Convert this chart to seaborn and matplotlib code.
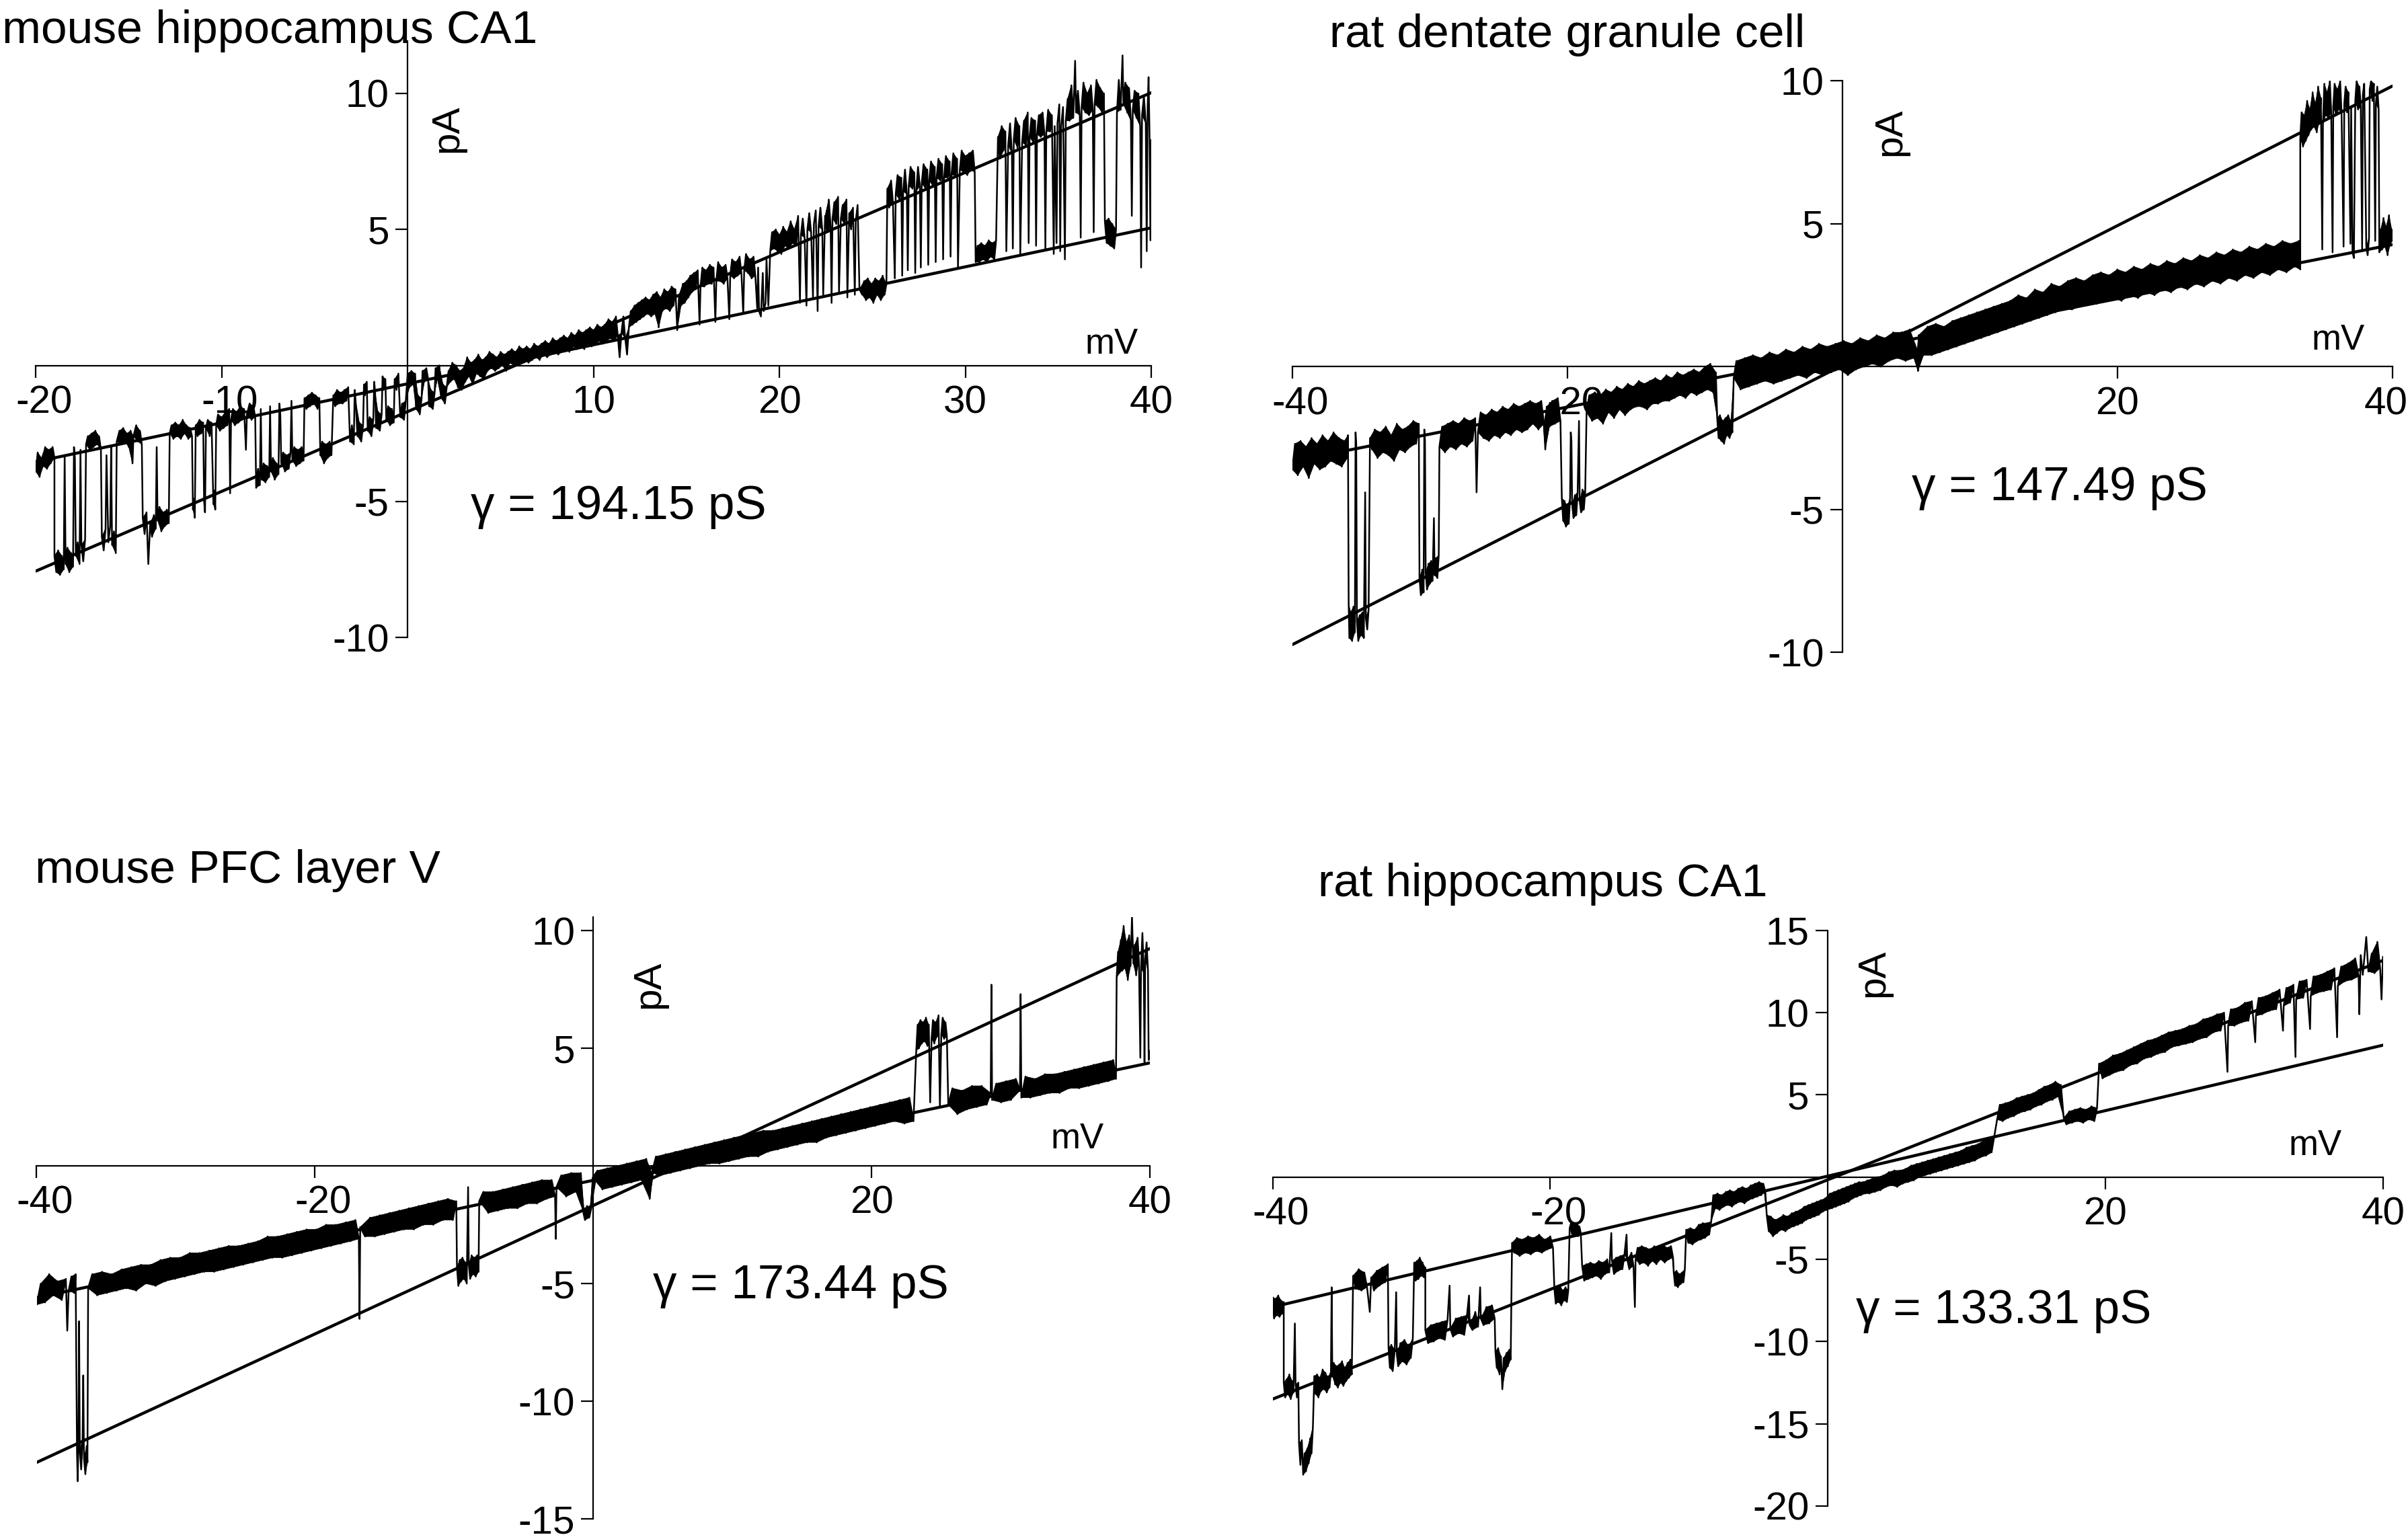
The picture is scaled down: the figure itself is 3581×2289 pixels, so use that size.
import matplotlib
matplotlib.use("Agg")
import matplotlib.pyplot as plt
from matplotlib.collections import PolyCollection
from matplotlib.transforms import ScaledTranslation
import pandas as pd
import seaborn as sns

# ---- values: (mV, pA) ----
mouse_ca1_trace = [
    (-20.0, -3.9), (-19.9, -3.2), (-19.8, -4.1), (-19.7, -3.4), (-19.6, -3.7), (-19.5, -3.0), (-19.4, -3.8),
    (-19.3, -3.1), (-19.2, -3.6), (-19.1, -3.0), (-19.0, -3.4), (-19.0, -7.0),
    (-18.9, -7.6), (-18.8, -6.8), (-18.7, -7.7), (-18.6, -7.0), (-18.5, -7.5), (-18.45, -3.3), (-18.4, -7.3),
    (-18.3, -6.7), (-18.2, -7.6), (-18.1, -6.9), (-18.0, -7.4), (-17.95, -3.0), (-17.9, -3.4), (-17.85, -7.0),
    (-17.75, -6.5), (-17.65, -7.3), (-17.6, -3.1), (-17.55, -6.6), (-17.45, -7.2), (-17.35, -6.4), (-17.3, -2.9),
    (-17.2, -2.6), (-17.1, -3.1), (-17.0, -2.5), (-16.9, -3.0), (-16.8, -2.4), (-16.7, -2.9), (-16.6, -2.6), (-16.5, -3.1),
    (-16.45, -6.3), (-16.35, -6.8), (-16.25, -6.0), (-16.2, -3.3), (-16.1, -6.5), (-16.0, -5.9), (-15.95, -3.0),
    (-15.9, -6.6), (-15.8, -6.1), (-15.7, -6.9), (-15.65, -2.8),
    (-15.5, -2.4), (-15.4, -2.9), (-15.3, -2.3), (-15.2, -2.8), (-15.1, -2.5), (-15.0, -3.0), (-14.9, -2.4),
    (-14.8, -3.6), (-14.75, -2.6), (-14.6, -2.2), (-14.5, -2.8), (-14.4, -2.4), (-14.3, -2.9),
    (-14.25, -5.6), (-14.15, -6.2), (-14.05, -5.4), (-13.95, -7.3), (-13.85, -5.8), (-13.75, -6.3), (-13.65, -5.5),
    (-13.55, -6.0), (-13.5, -3.0), (-13.45, -5.7), (-13.35, -5.2), (-13.25, -6.1), (-13.15, -5.4), (-13.05, -5.9),
    (-12.95, -5.3), (-12.85, -5.8), (-12.8, -2.5),
    (-12.7, -2.2), (-12.6, -2.7), (-12.5, -2.1), (-12.4, -2.6), (-12.3, -2.2), (-12.2, -2.7), (-12.1, -2.0),
    (-12.0, -2.5), (-11.9, -2.2), (-11.8, -2.7), (-11.7, -2.3),
    (-11.6, -2.6), (-11.55, -5.3), (-11.5, -4.9), (-11.45, -5.6), (-11.4, -2.2), (-11.3, -2.6), (-11.2, -2.0),
    (-11.1, -2.5), (-11.0, -2.1), (-10.95, -5.0), (-10.9, -5.4), (-10.85, -2.3), (-10.75, -2.0), (-10.65, -2.6),
    (-10.55, -2.1), (-10.45, -5.1), (-10.4, -4.6), (-10.35, -5.3), (-10.3, -2.2), (-10.2, -1.8), (-10.1, -2.4),
    (-10.0, -1.9), (-9.9, -2.3), (-9.8, -1.7), (-9.7, -2.2), (-9.6, -1.6), (-9.55, -4.7), (-9.5, -2.0), (-9.4, -1.6),
    (-9.3, -2.2), (-9.2, -1.7), (-9.1, -2.1), (-9.0, -1.5), (-8.9, -2.0), (-8.8, -1.6), (-8.7, -3.1), (-8.65, -1.8),
    (-8.5, -1.4), (-8.4, -2.0), (-8.3, -1.5),
    (-8.2, -1.9), (-8.15, -4.5), (-8.05, -3.8), (-7.95, -4.4), (-7.9, -1.6), (-7.85, -4.2), (-7.75, -3.6),
    (-7.65, -4.3), (-7.55, -3.7), (-7.45, -4.1), (-7.4, -1.5), (-7.35, -3.9), (-7.25, -3.4), (-7.15, -4.2),
    (-7.05, -3.6), (-6.95, -4.0), (-6.9, -1.4), (-6.85, -1.8), (-6.8, -3.6), (-6.7, -3.2), (-6.6, -3.9),
    (-6.5, -3.3), (-6.4, -3.8), (-6.3, -3.2), (-6.25, -1.3), (-6.2, -3.5), (-6.1, -3.0), (-6.0, -3.7),
    (-5.9, -3.1), (-5.8, -3.6), (-5.7, -3.0), (-5.6, -3.5),
    (-5.55, -1.2), (-5.45, -1.6), (-5.35, -1.1), (-5.25, -1.5), (-5.15, -1.0), (-5.05, -1.4), (-4.95, -1.1),
    (-4.85, -1.6), (-4.75, -1.2),
    (-4.7, -3.3), (-4.6, -2.8), (-4.5, -3.6), (-4.4, -2.9), (-4.3, -3.4), (-4.2, -2.8), (-4.1, -3.3),
    (-4.0, -1.1), (-3.9, -1.5), (-3.8, -0.9), (-3.7, -1.4), (-3.6, -1.0), (-3.5, -1.4), (-3.4, -0.9), (-3.3, -1.3),
    (-3.2, -0.8),
    (-3.1, -2.8), (-3.0, -2.2), (-2.9, -2.9), (-2.85, -0.9), (-2.8, -1.3), (-2.7, -2.6), (-2.6, -2.1), (-2.5, -2.8),
    (-2.4, -2.2), (-2.35, -0.7), (-2.3, -1.1), (-2.2, -0.6), (-2.15, -2.4), (-2.05, -1.9), (-1.95, -2.6),
    (-1.85, -2.0), (-1.8, -0.6), (-1.75, -1.0), (-1.7, -2.3), (-1.6, -1.7), (-1.5, -2.4), (-1.4, -1.8),
    (-1.35, -0.4), (-1.3, -0.9), (-1.2, -0.5), (-1.15, -2.0), (-1.05, -1.5), (-0.95, -2.2), (-0.85, -1.6),
    (-0.75, -2.1), (-0.7, -0.5), (-0.6, -0.9), (-0.5, -0.3), (-0.4, -1.9), (-0.3, -1.4), (-0.2, -2.0),
    (-0.1, -1.3), (0.0, -0.3),
    (0.1, -0.8), (0.2, -0.2), (0.3, -0.7), (0.4, -0.3), (0.45, -1.6), (0.55, -1.1), (0.65, -1.8), (0.75, -1.2),
    (0.8, -0.2), (0.9, -0.6), (1.0, -0.1), (1.1, -0.5), (1.15, -1.5), (1.25, -0.9), (1.35, -1.6), (1.45, -1.0),
    (1.5, -0.1), (1.6, -0.5), (1.7, 0.0), (1.8, -1.2), (1.9, -0.7), (2.0, -1.4), (2.1, -0.8), (2.2, -0.2),
    (2.3, -0.6), (2.4, 0.1), (2.5, -0.5), (2.6, 0.0), (2.7, -0.8), (2.8, -0.2), (2.9, -0.9), (3.0, -0.1),
    (3.1, -0.6), (3.2, 0.3), (3.3, -0.4), (3.4, 0.1), (3.5, -0.7), (3.6, 0.2), (3.7, -0.3), (3.8, 0.4),
    (3.9, -0.4), (4.0, 0.2), (4.1, -0.5), (4.2, 0.3), (4.3, -0.2), (4.4, 0.5),
    (4.5, -0.1), (4.6, 0.4), (4.7, -0.2), (4.8, 0.3), (4.9, -0.1), (5.0, 0.5), (5.1, 0.0), (5.2, 0.4),
    (5.3, -0.2), (5.4, 0.5), (5.5, 0.1), (5.6, 0.6), (5.7, 0.0), (5.8, 0.5), (5.9, 0.1), (6.0, 0.7),
    (6.1, 0.1), (6.2, 0.6), (6.3, 0.2), (6.4, 0.7), (6.5, 0.1), (6.6, 0.6), (6.7, 0.2), (6.8, 0.8),
    (6.9, 0.3), (7.0, 0.7), (7.1, 0.2), (7.2, 0.8), (7.3, 0.4), (7.4, 0.9), (7.5, 0.3), (7.6, 0.8),
    (7.7, 0.4), (7.8, 1.0), (7.9, 0.5), (8.0, 0.9), (8.1, 0.4), (8.2, 1.0), (8.3, 0.5), (8.4, 1.1),
    (8.5, 0.6), (8.6, 1.0), (8.7, 0.5), (8.8, 1.2), (8.9, 0.7), (9.0, 1.1), (9.1, 0.6), (9.2, 1.3),
    (9.3, 0.7), (9.4, 1.2), (9.5, 0.6), (9.6, 1.3), (9.7, 0.8), (9.8, 1.4), (9.9, 0.7), (10.0, 1.3),
    (10.1, 0.8), (10.2, 1.5), (10.3, 0.9), (10.4, 1.4), (10.5, 0.8), (10.6, 1.5),
    (10.7, 0.9), (10.8, 1.7), (10.9, 1.0), (11.0, 1.6), (11.1, 0.9), (11.2, 1.8), (11.3, 1.1), (11.4, 0.3),
    (11.5, 1.2), (11.6, 1.8), (11.7, 1.0), (11.8, 0.4), (11.9, 1.4), (12.0, 2.0),
    (12.1, 1.5), (12.2, 2.2), (12.3, 1.6), (12.4, 2.3), (12.5, 1.7), (12.6, 2.4), (12.7, 1.8), (12.8, 2.5),
    (12.9, 1.9), (13.0, 2.4), (13.1, 1.8), (13.2, 2.6), (13.3, 1.9), (13.4, 2.7), (13.5, 1.4), (13.6, 2.5),
    (13.7, 2.0), (13.8, 2.8), (13.9, 2.1), (14.0, 2.7), (14.1, 2.0), (14.2, 2.9), (14.3, 2.2), (14.4, 2.8),
    (14.5, 1.3), (14.6, 2.6), (14.7, 2.2), (14.8, 3.0), (14.9, 2.3),
    (15.0, 3.1), (15.1, 2.5), (15.2, 3.3), (15.3, 2.7), (15.4, 3.4), (15.5, 2.8), (15.6, 3.5), (15.7, 1.5),
    (15.75, 2.9), (15.85, 3.6), (15.95, 2.9), (16.05, 3.5), (16.15, 3.0), (16.25, 3.7), (16.35, 3.0),
    (16.45, 3.6), (16.55, 1.6), (16.6, 3.1), (16.7, 3.8), (16.8, 3.1), (16.9, 3.6), (17.0, 3.0), (17.1, 3.7),
    (17.2, 3.2), (17.3, 1.7), (17.35, 3.3), (17.45, 3.9), (17.55, 3.2), (17.65, 3.8), (17.75, 3.3),
    (17.85, 4.0), (17.95, 3.4), (18.05, 1.9), (18.1, 3.5), (18.2, 4.1), (18.3, 3.4), (18.4, 3.9), (18.5, 3.2),
    (18.6, 4.0), (18.7, 3.3), (18.8, 2.1), (18.85, 3.6), (18.9, 2.0), (19.0, 1.8), (19.1, 3.4), (19.15, 2.0),
    (19.25, 2.3), (19.3, 3.9), (19.4, 2.2), (19.5, 4.2),
    (19.6, 4.9), (19.7, 4.3), (19.8, 5.0), (19.9, 4.2), (20.0, 4.8), (20.1, 4.1), (20.2, 5.1), (20.3, 4.4),
    (20.4, 4.9), (20.5, 4.3), (20.6, 5.3), (20.7, 4.5), (20.8, 5.0), (20.9, 4.4),
    (21.0, 5.5), (21.1, 2.3), (21.15, 4.8), (21.25, 5.4), (21.35, 4.7), (21.45, 2.2), (21.5, 5.0), (21.6, 5.6),
    (21.7, 4.9), (21.8, 2.5), (21.85, 5.2), (21.95, 5.7), (22.05, 2.0), (22.1, 5.1), (22.2, 5.8), (22.3, 5.0),
    (22.35, 2.6), (22.45, 5.5), (22.55, 4.9), (22.65, 6.1), (22.75, 5.1), (22.8, 2.3), (22.85, 5.4),
    (22.95, 6.0), (23.05, 5.2), (23.15, 6.2), (23.2, 2.7), (23.3, 5.4), (23.4, 5.9), (23.5, 5.2), (23.6, 6.1),
    (23.65, 2.5), (23.75, 5.6), (23.85, 5.0), (23.95, 5.8), (24.05, 2.6), (24.1, 5.3), (24.2, 5.9), (24.3, 2.8),
    (24.45, 2.6), (24.55, 3.1), (24.65, 2.4), (24.75, 3.2), (24.85, 2.5), (24.95, 3.0), (25.05, 2.3),
    (25.15, 3.2), (25.25, 2.6), (25.35, 3.1), (25.45, 2.4), (25.55, 3.3), (25.65, 2.6), (25.75, 3.0),
    (25.8, 6.5), (25.9, 5.8), (26.0, 6.8), (26.1, 6.0), (26.2, 3.2), (26.25, 6.3), (26.35, 7.0), (26.45, 6.1),
    (26.55, 6.9), (26.6, 3.3), (26.65, 6.4), (26.75, 7.2), (26.85, 6.3), (26.9, 3.5), (26.95, 6.6), (27.05, 7.3),
    (27.15, 6.5), (27.25, 7.1), (27.3, 3.4), (27.35, 6.4), (27.45, 7.3), (27.55, 6.6), (27.6, 3.6), (27.65, 6.7),
    (27.75, 7.4), (27.85, 6.5), (27.95, 7.2), (28.0, 3.7), (28.05, 6.8), (28.15, 7.5), (28.25, 6.6), (28.35, 7.3),
    (28.4, 3.8), (28.45, 6.9), (28.55, 7.6), (28.65, 6.8), (28.75, 7.4), (28.8, 3.9), (28.85, 6.9), (28.95, 7.7),
    (29.05, 6.9), (29.15, 7.5), (29.2, 4.0), (29.25, 7.0), (29.35, 7.8), (29.45, 7.0), (29.55, 7.6), (29.6, 3.6),
    (29.7, 7.2), (29.8, 7.9), (29.9, 7.1), (30.0, 7.7), (30.1, 7.0), (30.2, 7.8), (30.3, 7.2), (30.4, 7.9),
    (30.5, 7.1), (30.55, 3.8),
    (30.65, 4.4), (30.75, 3.8), (30.85, 4.5), (30.95, 3.9), (31.05, 4.4), (31.15, 3.8), (31.25, 4.6),
    (31.35, 4.0), (31.45, 4.5), (31.55, 3.9), (31.65, 4.6),
    (31.75, 8.4), (31.85, 7.6), (31.95, 8.8), (32.05, 7.9), (32.15, 8.6), (32.2, 4.2), (32.3, 8.1), (32.4, 8.9),
    (32.5, 7.8), (32.55, 4.3), (32.6, 8.3), (32.7, 9.1), (32.8, 8.0), (32.9, 8.8), (32.95, 4.1), (33.05, 8.2),
    (33.15, 9.0), (33.25, 8.1), (33.35, 9.3), (33.4, 4.5), (33.45, 8.4), (33.55, 9.1), (33.65, 8.2), (33.75, 9.0),
    (33.8, 4.4), (33.85, 8.5), (33.95, 9.2), (34.05, 8.4), (34.15, 9.3), (34.25, 8.5), (34.3, 4.3), (34.35, 8.6),
    (34.45, 9.4), (34.55, 8.6), (34.65, 9.2),
    (34.75, 4.1), (34.8, 8.8), (34.9, 4.5), (34.95, 8.9), (35.05, 9.6), (35.1, 4.2), (35.15, 8.8), (35.25, 9.5),
    (35.35, 3.9), (35.4, 9.0),
    (35.5, 9.8), (35.6, 9.0), (35.7, 10.3), (35.8, 9.1), (35.9, 11.2), (35.95, 9.3), (36.05, 10.1), (36.15, 9.2),
    (36.2, 4.7), (36.25, 9.5), (36.35, 10.4), (36.45, 9.3), (36.55, 10.0), (36.65, 9.2), (36.75, 10.3),
    (36.85, 9.4), (36.9, 4.9), (36.95, 9.6), (37.05, 10.5), (37.15, 9.5), (37.25, 10.2), (37.35, 9.3), (37.45, 10.0),
    (37.5, 5.3), (37.6, 4.5), (37.7, 5.4), (37.8, 4.4), (37.9, 5.2), (38.0, 4.3), (38.1, 5.0),
    (38.15, 9.3), (38.25, 10.5), (38.35, 9.4), (38.45, 11.4), (38.5, 9.6), (38.6, 10.4), (38.7, 9.3), (38.8, 10.2),
    (38.9, 9.0), (38.95, 5.5), (39.0, 9.4), (39.1, 10.1), (39.2, 9.1), (39.3, 10.0), (39.4, 8.8), (39.45, 3.6),
    (39.5, 9.2), (39.6, 9.9), (39.7, 8.9), (39.75, 4.2), (39.8, 9.5), (39.85, 10.6), (39.9, 8.6), (39.95, 4.6),
    (40.0, 8.3),
]
mouse_ca1_closed_fit = [(-20, -3.54), (40, 5.06)]
mouse_ca1_open_fit = [(-20, -7.56), (40, 10.03)]

rat_dg_trace = [
    (-40.0, -3.6), (-39.8, -2.7), (-39.6, -3.8), (-39.4, -2.6), (-39.2, -3.5), (-39.0, -2.8), (-38.8, -3.9),
    (-38.6, -2.5), (-38.4, -3.4), (-38.2, -2.7), (-38.0, -3.6), (-37.8, -2.4), (-37.6, -3.5), (-37.4, -2.6),
    (-37.2, -3.3), (-37.0, -2.3), (-36.8, -3.4), (-36.6, -2.5), (-36.4, -3.5), (-36.2, -2.6), (-36.0, -3.2),
    (-35.95, -2.4), (-35.9, -8.3), (-35.85, -9.5), (-35.75, -8.6), (-35.65, -9.6), (-35.55, -8.4), (-35.45, -9.3),
    (-35.4, -2.3), (-35.35, -2.7), (-35.3, -8.9), (-35.2, -9.6), (-35.1, -8.7), (-35.0, -9.4), (-34.9, -8.6),
    (-34.8, -9.5), (-34.7, -4.4), (-34.65, -8.8), (-34.55, -9.2), (-34.45, -8.5), (-34.35, -2.5),
    (-34.2, -2.9), (-34.0, -2.2), (-33.8, -3.2), (-33.6, -2.3), (-33.4, -3.0), (-33.2, -2.1), (-33.0, -3.1),
    (-32.8, -2.4), (-32.6, -3.3), (-32.4, -2.0), (-32.2, -2.9), (-32.0, -2.2), (-31.8, -3.0), (-31.6, -2.1),
    (-31.4, -2.8), (-31.2, -1.9), (-31.0, -2.7), (-30.8, -2.0),
    (-30.75, -7.4), (-30.65, -8.0), (-30.55, -7.1), (-30.45, -7.9), (-30.4, -2.2), (-30.35, -2.6), (-30.3, -7.2),
    (-30.2, -7.8), (-30.1, -6.9), (-30.0, -7.6), (-29.9, -6.8), (-29.8, -7.5), (-29.7, -5.3), (-29.65, -7.3),
    (-29.55, -6.7), (-29.45, -7.4), (-29.35, -6.6), (-29.3, -2.8),
    (-29.1, -2.1), (-28.9, -3.0), (-28.7, -2.0), (-28.5, -2.8), (-28.3, -1.9), (-28.1, -2.9), (-27.9, -2.0),
    (-27.7, -2.7), (-27.5, -1.8), (-27.3, -2.8), (-27.1, -1.9), (-26.9, -2.6), (-26.7, -1.8), (-26.6, -4.4),
    (-26.5, -2.3), (-26.3, -1.6), (-26.1, -2.5), (-25.9, -1.7), (-25.7, -2.6), (-25.5, -1.5), (-25.3, -2.4),
    (-25.1, -1.6), (-24.9, -2.5), (-24.7, -1.4), (-24.5, -2.3), (-24.3, -1.5), (-24.1, -2.4), (-23.9, -1.3),
    (-23.7, -2.2), (-23.5, -1.4), (-23.3, -2.3), (-23.1, -1.3), (-22.9, -2.2), (-22.7, -1.2), (-22.5, -2.0),
    (-22.3, -1.3), (-22.1, -2.2), (-21.9, -1.2), (-21.7, -2.0), (-21.6, -2.9), (-21.5, -1.4), (-21.3, -2.1),
    (-21.1, -1.2), (-20.9, -2.0), (-20.7, -1.1), (-20.5, -1.9),
    (-20.4, -4.6), (-20.3, -5.4), (-20.2, -4.7), (-20.1, -5.6), (-20.0, -4.9), (-19.9, -5.5), (-19.8, -4.6),
    (-19.75, -2.3), (-19.7, -2.6), (-19.65, -4.8), (-19.55, -5.3), (-19.45, -4.5), (-19.35, -5.2), (-19.25, -4.4),
    (-19.15, -1.9), (-19.1, -4.7), (-19.0, -5.1), (-18.9, -4.3), (-18.8, -5.0), (-18.7, -4.4), (-18.6, -1.6),
    (-18.4, -1.0), (-18.2, -1.9), (-18.0, -0.9), (-17.8, -1.8), (-17.6, -1.0), (-17.4, -2.0), (-17.2, -0.8),
    (-17.0, -1.6), (-16.8, -0.9), (-16.6, -1.8), (-16.4, -0.7), (-16.2, -1.5), (-16.0, -0.8), (-15.8, -1.7),
    (-15.6, -0.6), (-15.4, -1.5), (-15.2, -0.7), (-15.0, -1.4), (-14.8, -0.5), (-14.6, -1.4), (-14.4, -0.6),
    (-14.2, -1.5), (-14.0, -0.5), (-13.8, -1.3), (-13.6, -0.4), (-13.4, -1.3), (-13.2, -0.5), (-13.0, -1.2),
    (-12.8, -0.3), (-12.6, -1.2), (-12.4, -0.4), (-12.2, -1.1), (-12.0, -0.2), (-11.8, -1.0), (-11.6, -0.3),
    (-11.4, -1.1), (-11.2, -0.2), (-11.0, -0.9), (-10.8, -0.1), (-10.6, -1.0), (-10.4, -0.2), (-10.2, -0.9),
    (-10.0, 0.0), (-9.8, -0.8), (-9.6, 0.1), (-9.4, -0.9), (-9.2, -0.2),
    (-9.1, -1.8), (-9.0, -2.5), (-8.9, -1.7), (-8.8, -2.6), (-8.7, -1.9), (-8.6, -2.7), (-8.5, -1.8),
    (-8.4, -2.4), (-8.3, -1.7), (-8.2, -2.5), (-8.1, -1.9), (-8.0, -2.3), (-7.9, -0.4),
    (-7.7, 0.2), (-7.4, -0.8), (-7.1, 0.3), (-6.8, -0.7), (-6.5, 0.4), (-6.2, -0.6), (-5.9, 0.3), (-5.6, -0.5),
    (-5.3, 0.5), (-5.0, -0.6), (-4.7, 0.4), (-4.4, -0.5), (-4.1, 0.6), (-3.8, -0.4), (-3.5, 0.5), (-3.2, -0.3),
    (-2.9, 0.7), (-2.6, -0.4), (-2.3, 0.6), (-2.0, -0.2), (-1.7, 0.8), (-1.4, -0.3), (-1.1, 0.7), (-0.8, -0.2),
    (-0.5, 0.8), (-0.2, -0.1), (0.1, 0.9), (0.4, -0.3), (0.7, 0.8), (1.0, -0.1), (1.3, 1.0), (1.6, 0.0),
    (1.9, 0.9), (2.2, 0.1), (2.5, 1.1), (2.8, 0.0), (3.1, 1.0), (3.4, 0.2), (3.7, 1.2), (4.0, 0.3),
    (4.3, 1.2), (4.6, 0.2), (4.9, 1.3), (5.2, 0.3), (5.45, 0.6), (5.5, -0.15), (5.55, 1.1), (5.9, 0.4),
    (6.2, 1.4), (6.5, 0.4), (6.8, 1.5), (7.1, 0.5), (7.4, 1.4), (7.7, 0.6), (8.0, 1.6), (8.3, 0.7),
    (8.6, 1.7), (8.9, 0.8), (9.2, 1.8), (9.5, 0.9), (9.8, 1.9), (10.1, 1.0), (10.4, 2.0), (10.7, 1.1),
    (11.0, 2.1), (11.3, 1.2), (11.6, 2.2), (11.9, 1.3), (12.2, 2.3), (12.5, 1.4), (12.8, 2.5), (13.1, 1.5),
    (13.4, 2.4), (13.7, 1.6), (14.0, 2.7), (14.3, 1.7), (14.6, 2.6), (14.9, 1.8), (15.2, 2.9), (15.5, 1.9),
    (15.8, 2.8), (16.1, 2.0), (16.4, 3.0), (16.7, 2.0), (17.0, 3.1), (17.3, 2.1), (17.6, 3.0), (17.9, 2.2),
    (18.2, 3.2), (18.5, 2.2), (18.8, 3.3), (19.1, 2.3), (19.4, 3.2), (19.7, 2.4), (20.0, 3.4), (20.3, 2.3),
    (20.6, 3.3), (20.9, 2.5), (21.2, 3.5), (21.5, 2.4), (21.8, 3.4), (22.1, 2.6), (22.4, 3.6), (22.7, 2.5),
    (23.0, 3.5), (23.3, 2.7), (23.6, 3.7), (23.9, 2.6), (24.2, 3.6), (24.5, 2.8), (24.8, 3.8), (25.1, 2.7),
    (25.4, 3.7), (25.7, 2.9), (26.0, 3.9), (26.3, 2.8), (26.6, 3.8), (26.9, 3.0), (27.2, 4.0), (27.5, 2.9),
    (27.8, 3.9), (28.1, 3.1), (28.4, 4.1), (28.7, 3.0), (29.0, 4.0), (29.3, 3.2), (29.6, 4.2), (29.9, 3.1),
    (30.2, 4.1), (30.5, 3.3), (30.8, 4.3), (31.1, 3.2), (31.4, 4.2), (31.7, 3.4), (32.0, 4.4), (32.3, 3.3),
    (32.6, 4.3), (32.9, 3.5), (33.2, 4.4),
    (33.3, 3.4), (33.3, 8.0), (33.4, 8.9), (33.5, 7.7), (33.6, 8.8), (33.7, 7.9), (33.8, 9.3), (33.9, 8.1),
    (34.0, 9.0), (34.1, 8.3), (34.2, 9.6), (34.3, 8.4), (34.4, 9.2), (34.5, 8.2), (34.6, 9.8), (34.7, 8.6),
    (34.8, 9.4), (34.9, 4.1), (34.95, 8.5), (35.05, 9.9), (35.15, 8.8), (35.25, 9.6), (35.35, 8.7), (35.45, 10.0),
    (35.55, 8.9), (35.65, 4.0), (35.7, 9.1), (35.8, 9.9), (35.9, 8.8), (36.0, 9.7), (36.1, 9.0), (36.2, 10.0),
    (36.3, 8.9), (36.45, 4.2), (36.5, 9.2), (36.6, 9.8), (36.7, 8.9), (36.8, 9.6), (36.95, 4.3), (37.0, 9.1),
    (37.1, 4.0), (37.2, 3.8), (37.3, 9.3), (37.4, 10.0), (37.5, 9.0), (37.6, 9.8), (37.7, 9.1), (37.8, 4.1),
    (37.85, 9.5), (37.95, 9.9), (38.1, 4.2), (38.2, 3.9), (38.3, 4.5), (38.35, 9.7), (38.45, 10.0), (38.55, 9.3),
    (38.65, 9.9), (38.75, 4.4), (38.8, 9.2), (38.9, 9.8), (39.0, 9.0),
    (39.05, 4.0), (39.15, 4.8), (39.25, 4.1), (39.35, 5.2), (39.45, 4.2), (39.55, 4.9), (39.65, 3.9),
    (39.75, 5.3), (39.85, 4.3), (39.95, 4.8), (40.0, 4.4),
]
rat_dg_closed_fit = [(-40, -3.31), (40, 4.27)]
rat_dg_open_fit = [(-40, -9.73), (40, 9.82)]

mouse_pfc_trace = [
    (-40.0, -5.9), (-39.7, -5.0), (-39.4, -5.8), (-39.1, -4.6), (-38.8, -5.5), (-38.5, -4.9), (-38.2, -5.7),
    (-37.9, -4.8), (-37.8, -7.0), (-37.7, -5.3), (-37.5, -4.7), (-37.3, -5.4), (-37.2, -4.6),
    (-37.1, -12.2), (-37.05, -13.4), (-37.0, -11.8), (-36.95, -6.6), (-36.9, -12.1), (-36.8, -12.9),
    (-36.7, -11.6), (-36.65, -8.9), (-36.6, -12.4), (-36.5, -13.1), (-36.4, -11.9), (-36.35, -12.6), (-36.3, -5.2),
    (-36.0, -4.6), (-35.65, -5.5), (-35.3, -4.5), (-34.95, -5.4), (-34.6, -4.6), (-34.25, -5.3), (-33.9, -4.4),
    (-33.55, -5.2), (-33.2, -4.3), (-32.85, -5.3), (-32.5, -4.2), (-32.15, -5.0), (-31.8, -4.2), (-31.45, -5.1),
    (-31.1, -4.0), (-30.75, -4.9), (-30.4, -3.9), (-30.05, -4.8), (-29.7, -3.9), (-29.35, -4.7), (-29.0, -3.7),
    (-28.65, -4.6), (-28.3, -3.7), (-27.95, -4.5), (-27.6, -3.6), (-27.25, -4.5), (-26.9, -3.5), (-26.55, -4.4),
    (-26.2, -3.4), (-25.85, -4.3), (-25.5, -3.4), (-25.15, -4.2), (-24.8, -3.3), (-24.45, -4.1), (-24.1, -3.2),
    (-23.75, -4.0), (-23.4, -3.0), (-23.05, -3.9), (-22.7, -3.0), (-22.35, -3.9), (-22.0, -2.9), (-21.65, -3.8),
    (-21.3, -2.8), (-20.95, -3.7), (-20.6, -2.7), (-20.25, -3.6), (-19.9, -2.7), (-19.55, -3.5), (-19.2, -2.5),
    (-18.85, -3.4), (-18.5, -2.5), (-18.15, -3.3), (-17.8, -2.4), (-17.45, -3.2), (-17.1, -2.3), (-16.85, -3.1),
    (-16.8, -6.5), (-16.75, -2.6),
    (-16.4, -3.0), (-16.05, -2.2), (-15.7, -3.0), (-15.35, -2.1), (-15.0, -2.9), (-14.65, -2.0), (-14.3, -2.8),
    (-13.95, -1.9), (-13.6, -2.7), (-13.25, -1.8), (-12.9, -2.7), (-12.55, -1.7), (-12.2, -2.5), (-11.85, -1.6),
    (-11.5, -2.5), (-11.15, -1.5), (-10.8, -2.3), (-10.45, -1.4), (-10.1, -2.3), (-9.85, -1.5),
    (-9.8, -4.3), (-9.7, -5.1), (-9.6, -4.0), (-9.5, -4.9), (-9.4, -3.9), (-9.3, -4.8), (-9.2, -4.1),
    (-9.1, -5.0), (-9.0, -0.9), (-8.95, -4.2), (-8.85, -4.8), (-8.75, -3.8), (-8.65, -4.6), (-8.55, -3.9),
    (-8.45, -4.7), (-8.35, -3.8), (-8.25, -4.5), (-8.2, -1.5),
    (-7.9, -1.1), (-7.55, -2.0), (-7.2, -1.1), (-6.85, -1.9), (-6.5, -1.0), (-6.15, -1.8), (-5.8, -0.9),
    (-5.45, -1.8), (-5.1, -0.8), (-4.75, -1.6), (-4.4, -0.7), (-4.05, -1.6), (-3.7, -0.6), (-3.35, -1.4),
    (-3.0, -0.6), (-2.75, -1.3), (-2.7, -3.1), (-2.65, -0.9), (-2.3, -0.4), (-1.95, -1.3), (-1.6, -0.3),
    (-1.25, -1.1), (-0.9, -0.3),
    (-0.75, -1.9), (-0.6, -2.3), (-0.45, -1.7), (-0.3, -2.2), (-0.15, -1.8), (-0.05, -0.5),
    (0.3, -0.2), (0.65, -1.0), (1.0, -0.1), (1.35, -0.9), (1.7, 0.0), (2.05, -0.8), (2.4, 0.1), (2.75, -0.7),
    (3.1, 0.2), (3.45, -0.6), (3.8, 0.3), (4.05, -1.4), (4.2, -0.3), (4.5, 0.4), (4.85, -0.4), (5.2, 0.5),
    (5.55, -0.3), (5.9, 0.6), (6.25, -0.2), (6.6, 0.7), (6.95, -0.1), (7.3, 0.8), (7.65, 0.0), (8.0, 0.9),
    (8.35, 0.1), (8.7, 1.0), (9.05, 0.1), (9.4, 1.1), (9.75, 0.2), (10.1, 1.2), (10.45, 0.3), (10.8, 1.3),
    (11.15, 0.4), (11.5, 1.4), (11.85, 0.4), (12.2, 1.5), (12.55, 0.6), (12.9, 1.5), (13.25, 0.7), (13.6, 1.6),
    (13.95, 0.8), (14.3, 1.7), (14.65, 0.9), (15.0, 1.8), (15.35, 1.0), (15.7, 1.9), (16.05, 1.0), (16.4, 2.0),
    (16.75, 1.2), (17.1, 2.1), (17.45, 1.3), (17.8, 2.2), (18.15, 1.4), (18.5, 2.3), (18.85, 1.5), (19.2, 2.4),
    (19.55, 1.6), (19.9, 2.5), (20.25, 1.7), (20.6, 2.6), (20.95, 1.8), (21.3, 2.7), (21.65, 1.9), (22.0, 2.8),
    (22.35, 1.8), (22.7, 2.9), (23.0, 1.9),
    (23.2, 4.9), (23.3, 6.0), (23.4, 5.0), (23.5, 6.2), (23.6, 5.2), (23.7, 6.1), (23.8, 5.3), (23.9, 6.3),
    (24.0, 5.1), (24.1, 6.0), (24.2, 2.7), (24.3, 5.4), (24.4, 6.2), (24.5, 5.2), (24.6, 6.1), (24.7, 5.5),
    (24.8, 6.4), (24.9, 2.5), (25.0, 5.6), (25.1, 6.3), (25.2, 5.4), (25.3, 6.1), (25.4, 5.5), (25.5, 2.6),
    (25.8, 3.3), (26.15, 2.2), (26.5, 3.2), (26.85, 2.4), (27.2, 3.4), (27.55, 2.5), (27.9, 3.4), (28.25, 2.6),
    (28.55, 3.1), (28.6, 7.7), (28.65, 2.8), (28.95, 3.5), (29.3, 2.7), (29.65, 3.6), (30.0, 2.8), (30.35, 3.7),
    (30.65, 3.2), (30.7, 7.3), (30.75, 2.9), (31.05, 3.8), (31.4, 2.9), (31.75, 3.7), (32.1, 3.0), (32.45, 3.9),
    (32.8, 3.1), (33.15, 3.9), (33.5, 3.1), (33.85, 4.0), (34.2, 3.3), (34.55, 4.1), (34.9, 3.3), (35.25, 4.2),
    (35.6, 3.4), (35.95, 4.3), (36.3, 3.5), (36.65, 4.4), (37.0, 3.6), (37.35, 4.5), (37.55, 3.7),
    (37.6, 8.0), (37.7, 9.1), (37.8, 8.2), (37.9, 9.6), (38.0, 8.3), (38.1, 10.2), (38.2, 8.4), (38.3, 9.5),
    (38.4, 7.9), (38.5, 9.8), (38.6, 8.5), (38.7, 10.6), (38.8, 8.6), (38.9, 9.4), (39.0, 8.1), (39.1, 9.7),
    (39.2, 8.7), (39.3, 4.6), (39.35, 8.4), (39.45, 9.9), (39.55, 8.2), (39.6, 4.4), (39.65, 8.8), (39.75, 9.5),
    (39.85, 8.3), (39.9, 4.5), (40.0, 4.9),
]
mouse_pfc_closed_fit = [(-40, -5.6), (40, 4.38)]
mouse_pfc_open_fit = [(-40, -12.6), (40, 9.24)]

rat_ca1_trace = [
    (-40.0, -7.3), (-39.9, -8.6), (-39.8, -7.4), (-39.7, -8.4), (-39.6, -7.2), (-39.5, -8.5), (-39.4, -7.5),
    (-39.3, -8.3), (-39.2, -7.6),
    (-39.2, -12.5), (-39.1, -13.4), (-39.0, -12.3), (-38.9, -13.2), (-38.8, -12.0), (-38.7, -13.5), (-38.6, -12.4),
    (-38.5, -13.1), (-38.4, -8.9), (-38.35, -12.6), (-38.25, -13.4), (-38.15, -12.5),
    (-38.1, -16.2), (-38.0, -17.5), (-37.9, -16.0), (-37.8, -18.1), (-37.7, -16.8), (-37.6, -17.9), (-37.5, -16.5),
    (-37.4, -17.4), (-37.3, -15.9), (-37.2, -16.8), (-37.1, -15.2),
    (-37.0, -12.1), (-36.9, -13.2), (-36.8, -12.0), (-36.7, -13.4), (-36.6, -12.2), (-36.5, -13.0), (-36.4, -11.7),
    (-36.3, -12.9), (-36.2, -11.9), (-36.1, -13.1), (-36.0, -12.2), (-35.9, -12.8), (-35.8, -11.8), (-35.75, -6.7),
    (-35.7, -12.1),
    (-35.6, -11.3), (-35.5, -12.6), (-35.4, -11.5), (-35.3, -12.8), (-35.2, -11.4), (-35.1, -12.5), (-35.0, -11.2),
    (-34.9, -12.7), (-34.8, -11.6), (-34.7, -12.4), (-34.6, -11.3), (-34.5, -12.2), (-34.4, -11.1), (-34.3, -12.0),
    (-34.2, -6.0),
    (-34.0, -6.8), (-33.8, -5.6), (-33.6, -6.9), (-33.4, -5.8), (-33.2, -6.7), (-33.0, -8.2), (-32.9, -6.1),
    (-32.7, -6.9), (-32.5, -5.7), (-32.3, -6.6), (-32.1, -5.5), (-31.9, -6.4), (-31.7, -5.3),
    (-31.65, -10.4), (-31.55, -11.6), (-31.45, -10.2), (-31.35, -11.8), (-31.2, -10.5), (-31.1, -7.0),
    (-31.05, -10.8), (-30.95, -11.5), (-30.8, -10.1), (-30.65, -11.2), (-30.5, -9.9), (-30.35, -11.4),
    (-30.2, -10.3), (-30.05, -11.0), (-29.9, -9.8), (-29.8, -5.2),
    (-29.7, -6.3), (-29.6, -5.1), (-29.5, -6.2), (-29.4, -4.9), (-29.3, -6.0), (-29.2, -5.2), (-29.1, -6.1),
    (-29.0, -5.5),
    (-29.0, -9.3), (-28.8, -10.1), (-28.6, -9.0), (-28.4, -10.0), (-28.2, -8.9), (-28.0, -9.8), (-27.8, -8.8),
    (-27.6, -9.9), (-27.4, -8.7), (-27.25, -6.6), (-27.2, -9.2), (-27.0, -9.7), (-26.8, -8.6), (-26.6, -9.5),
    (-26.4, -8.5), (-26.2, -9.6), (-26.0, -8.4), (-25.85, -7.2), (-25.8, -9.0), (-25.6, -9.3), (-25.4, -8.2),
    (-25.2, -9.1), (-25.05, -6.7), (-25.0, -8.6), (-24.8, -9.0), (-24.6, -7.9), (-24.4, -8.9), (-24.2, -7.8),
    (-24.0, -8.6),
    (-23.95, -10.6), (-23.85, -11.6), (-23.75, -10.4), (-23.65, -12.0), (-23.55, -10.9), (-23.45, -12.9),
    (-23.35, -11.0), (-23.25, -11.8), (-23.15, -10.7), (-23.05, -11.5), (-22.95, -10.5), (-22.85, -11.1),
    (-22.75, -4.0),
    (-22.6, -4.6), (-22.4, -3.7), (-22.2, -4.8), (-22.0, -3.8), (-21.8, -4.6), (-21.6, -3.6), (-21.4, -4.7),
    (-21.2, -3.7), (-21.0, -4.5), (-20.8, -3.5), (-20.6, -4.6), (-20.4, -3.8), (-20.2, -4.4), (-20.0, -3.6),
    (-19.8, -4.3),
    (-19.7, -6.8), (-19.6, -7.7), (-19.5, -6.7), (-19.4, -7.6), (-19.3, -6.6), (-19.2, -7.8), (-19.1, -6.9),
    (-19.0, -7.5), (-18.9, -6.7), (-18.8, -7.6), (-18.7, -6.9), (-18.6, -3.1),
    (-18.5, -2.8), (-18.4, -3.6), (-18.3, -2.9), (-18.2, -3.5), (-18.1, -2.8), (-18.0, -3.6), (-17.9, -3.0),
    (-17.8, -3.4),
    (-17.7, -5.4), (-17.55, -6.3), (-17.4, -5.3), (-17.25, -6.2), (-17.1, -5.2), (-16.95, -6.1), (-16.8, -5.3),
    (-16.65, -6.0), (-16.5, -5.1), (-16.35, -6.2), (-16.2, -5.2), (-16.05, -5.9), (-15.9, -5.0), (-15.75, -5.8),
    (-15.6, -3.4), (-15.55, -5.1), (-15.4, -5.9), (-15.25, -4.9), (-15.1, -5.7), (-14.95, -4.8), (-14.8, -5.6),
    (-14.65, -4.7), (-14.5, -3.5), (-14.45, -5.0), (-14.3, -5.6), (-14.15, -4.6), (-14.0, -5.4), (-13.9, -7.9),
    (-13.85, -5.0),
    (-13.7, -4.3), (-13.55, -5.3), (-13.4, -4.2), (-13.25, -5.2), (-13.1, -4.3), (-12.95, -5.4), (-12.8, -4.4),
    (-12.65, -5.1), (-12.5, -4.2), (-12.35, -5.3), (-12.2, -4.3), (-12.05, -5.0), (-11.9, -4.1), (-11.75, -5.2),
    (-11.6, -4.3), (-11.45, -5.0), (-11.3, -4.2), (-11.15, -4.9),
    (-11.1, -5.8), (-11.0, -6.6), (-10.9, -5.7), (-10.8, -6.7), (-10.7, -5.9), (-10.6, -6.5), (-10.5, -5.8),
    (-10.4, -6.4), (-10.3, -5.6),
    (-10.2, -3.2), (-10.05, -4.0), (-9.9, -3.1), (-9.75, -4.1), (-9.6, -3.2), (-9.45, -3.9), (-9.3, -2.9),
    (-9.15, -3.8), (-9.0, -2.8), (-8.85, -3.7), (-8.7, -2.8), (-8.55, -3.5), (-8.4, -2.7),
    (-8.25, -1.1), (-8.1, -1.9), (-7.95, -1.0), (-7.8, -2.0), (-7.65, -1.1), (-7.5, -1.8), (-7.35, -0.9),
    (-7.2, -1.7), (-7.05, -0.8), (-6.9, -1.8), (-6.75, -0.9), (-6.6, -1.6), (-6.45, -0.7), (-6.3, -1.5),
    (-6.15, -0.6), (-6.0, -1.6), (-5.85, -0.7), (-5.7, -1.4), (-5.55, -0.5), (-5.4, -1.3), (-5.25, -0.4),
    (-5.1, -1.2), (-4.95, -0.3), (-4.8, -1.1), (-4.65, -0.4), (-4.5, -0.9),
    (-4.4, -2.3), (-4.25, -3.3), (-4.1, -2.4), (-3.95, -3.6), (-3.8, -2.6), (-3.65, -3.4), (-3.5, -2.5),
    (-3.35, -3.2), (-3.2, -2.3), (-3.05, -3.3), (-2.9, -2.4), (-2.75, -3.1), (-2.6, -2.2), (-2.45, -3.0),
    (-2.3, -2.1), (-2.15, -2.9), (-2.0, -2.0), (-1.85, -2.8), (-1.7, -1.8), (-1.55, -2.6), (-1.4, -1.7),
    (-1.25, -2.5), (-1.1, -1.6), (-0.95, -2.4), (-0.8, -1.5), (-0.65, -2.3), (-0.5, -1.4), (-0.35, -2.1),
    (-0.2, -1.3), (-0.05, -2.0),
    (0.15, -1.0), (0.3, -1.9), (0.45, -0.9), (0.6, -1.8), (0.75, -0.8), (0.9, -1.7), (1.05, -0.7), (1.2, -1.6),
    (1.35, -0.6), (1.5, -1.5), (1.65, -0.5), (1.8, -1.3), (1.95, -0.4), (2.1, -1.2), (2.25, -0.3), (2.4, -1.1),
    (2.55, -0.3), (2.7, -1.0), (2.85, -0.2), (3.0, -1.0), (3.2, -0.1), (3.4, -0.9), (3.6, 0.0), (3.8, -0.8),
    (4.0, 0.1), (4.2, -0.6), (4.4, 0.3), (4.6, -0.5), (4.8, 0.4), (5.0, -0.6), (5.2, 0.4), (5.4, -0.4),
    (5.6, 0.5), (5.8, -0.3), (6.0, 0.7), (6.2, -0.2), (6.4, 0.8), (6.6, 0.0), (6.8, 0.9), (7.0, 0.1),
    (7.2, 1.0), (7.4, 0.2), (7.6, 1.1), (7.8, 0.3), (8.0, 1.2), (8.2, 0.4), (8.4, 1.3), (8.6, 0.5),
    (8.8, 1.4), (9.0, 0.6), (9.2, 1.5), (9.4, 0.7), (9.6, 1.6), (9.8, 0.8), (10.0, 1.8), (10.2, 0.9),
    (10.4, 1.9), (10.6, 1.0), (10.8, 2.0), (11.0, 1.2), (11.2, 2.2), (11.4, 1.3), (11.6, 2.4), (11.8, 1.5),
    (12.0, 2.5),
    (12.2, 3.5), (12.4, 4.4), (12.6, 3.4), (12.8, 4.5), (13.0, 3.6), (13.2, 4.6), (13.4, 3.7), (13.6, 4.8),
    (13.8, 3.9), (14.0, 4.9), (14.2, 4.0), (14.4, 5.0), (14.6, 4.1), (14.8, 5.1), (15.0, 4.3), (15.2, 5.3),
    (15.4, 4.4), (15.6, 5.5), (15.8, 4.6), (16.0, 5.6), (16.2, 4.7), (16.4, 5.8), (16.6, 4.9), (16.8, 5.6),
    (17.0, 3.6),
    (17.2, 3.2), (17.4, 4.0), (17.6, 3.3), (17.8, 4.1), (18.0, 3.4), (18.2, 4.2), (18.4, 3.3), (18.6, 4.1),
    (18.8, 3.5), (19.0, 4.3), (19.2, 3.4), (19.4, 4.2),
    (19.55, 6.9), (19.8, 6.0), (20.05, 7.1), (20.3, 6.2), (20.55, 7.4), (20.8, 6.4), (21.05, 7.5), (21.3, 6.5),
    (21.55, 7.7), (21.8, 6.8), (22.05, 7.9), (22.3, 6.9), (22.55, 8.1), (22.8, 7.2), (23.05, 8.3), (23.3, 7.3),
    (23.55, 8.4), (23.8, 7.5), (24.05, 8.6), (24.3, 7.6), (24.55, 8.8), (24.8, 7.9), (25.05, 8.9), (25.3, 8.0),
    (25.55, 9.0), (25.8, 8.1), (26.05, 9.2), (26.3, 8.2), (26.55, 9.3), (26.8, 8.4), (27.05, 9.6), (27.3, 8.5),
    (27.55, 9.7), (27.8, 8.8), (28.05, 9.9), (28.3, 8.9), (28.55, 10.0), (28.8, 6.4), (28.85, 9.2),
    (29.05, 10.2), (29.3, 9.2), (29.55, 10.3), (29.8, 9.4), (30.05, 10.6), (30.3, 9.5), (30.55, 10.7),
    (30.8, 8.2), (30.85, 9.8), (31.05, 10.9), (31.3, 9.9), (31.55, 11.0), (31.8, 10.1), (32.05, 11.2),
    (32.3, 10.2), (32.55, 11.4), (32.8, 8.9), (32.85, 10.4), (33.05, 11.5), (33.3, 10.6), (33.55, 11.7),
    (33.7, 7.3), (33.75, 10.8), (34.0, 11.9), (34.25, 10.9), (34.5, 12.0), (34.75, 9.0), (34.8, 11.0),
    (35.0, 12.2), (35.25, 11.2), (35.5, 12.3), (35.75, 11.3), (36.0, 12.5), (36.25, 11.4), (36.5, 12.7),
    (36.7, 8.5), (36.75, 11.6), (37.0, 12.8), (37.25, 11.9), (37.5, 13.0), (37.75, 12.0), (38.0, 13.3),
    (38.25, 12.2), (38.3, 9.9), (38.4, 13.5), (38.55, 12.3), (38.8, 14.6), (38.95, 12.5), (39.2, 13.6),
    (39.4, 12.4), (39.6, 14.3), (39.8, 12.7), (39.9, 10.8), (40.0, 13.4),
]
rat_ca1_closed_fit = [(-40, -7.9), (40, 8.02)]
rat_ca1_open_fit = [(-40, -13.5), (40, 13.17)]

titles = ["mouse hippocampus CA1", "rat dentate granule cell", "mouse PFC layer V", "rat hippocampus CA1"]
conductances = ["\u03b3 = 194.15 pS", "\u03b3 = 147.49 pS", "\u03b3 = 173.44 pS", "\u03b3 = 133.31 pS"]
x_ticks = [[-20, -10, 10, 20, 30, 40], [-40, -20, 20, 40], [-40, -20, 20, 40], [-40, -20, 20, 40]]
y_ticks = [[-10, -5, 5, 10], [-10, -5, 5, 10], [-15, -10, -5, 5, 10], [-20, -15, -10, -5, 5, 10, 15]]
x_limits = [(-20, 40), (-40, 40), (-40, 40), (-40, 40)]
y_limits = [(-10, 11.94), (-10, 10), (-15, 10.58), (-20, 15)]

traces = [mouse_ca1_trace, rat_dg_trace, mouse_pfc_trace, rat_ca1_trace]
fits = [
    [mouse_ca1_closed_fit, mouse_ca1_open_fit],
    [rat_dg_closed_fit, rat_dg_open_fit],
    [mouse_pfc_closed_fit, mouse_pfc_open_fit],
    [rat_ca1_closed_fit, rat_ca1_open_fit],
]

# ---- layout, in pixels of the 3581 x 2289 canvas (origin top-left) ----
W, H, DPI = 3581, 2289, 200
boxes = [(53.3, 1712.2, 60.5, 948.1), (1921.8, 3557.8, 120.3, 970.3),
         (54.5, 1710.3, 1363.8, 2259.1), (1892.6, 3543.7, 1383.8, 2239.9)]
title_xy = [(3, 64), (1977, 70), (52, 1313), (1960, 1333)]
gamma_xy = [(700, 772), (2843, 744), (971, 1931), (2760, 1968)]
mv_xy = [(1653, 526), (3477, 520), (1602, 1708), (3443, 1718)]
pa_xy = [(665, 191), (2811, 196), (965, 1464), (2786, 1447)]
# noise swings smaller than this (pA) are filled in as a solid band
band_limit = [1.4, 2.0, 2.0, 2.0]

sns.set_theme(style="white", rc={"axes.edgecolor": "black", "text.color": "black",
                                 "xtick.color": "black", "ytick.color": "black"})
plt.rcParams["font.family"] = ["Liberation Sans", "DejaVu Sans"]

fig = plt.figure(figsize=(W / DPI, H / DPI), dpi=DPI)


def fx(x):
    return x / W


def fy(y):
    return 1 - y / H


for i in range(4):
    left, right, top, bottom = boxes[i]
    ax = fig.add_axes([fx(left), fy(bottom), (right - left) / W, (bottom - top) / H])
    ax.set_facecolor("none")

    for fit in fits[i]:
        fit_df = pd.DataFrame(fit, columns=["mV", "pA"])
        sns.lineplot(data=fit_df, x="mV", y="pA", ax=ax, color="black", linewidth=1.6,
                     estimator=None, sort=False)

    # dense recording noise: fill each small zig-zag so the band reads as solid
    pts = traces[i]
    tris = [[a, b, c] for a, b, c in zip(pts, pts[1:], pts[2:])
            if max(a[1], b[1], c[1]) - min(a[1], b[1], c[1]) < band_limit[i]]
    ax.add_collection(PolyCollection(tris, facecolors="black", edgecolors="black", linewidths=0.3))

    trace_df = pd.DataFrame(pts, columns=["mV", "pA"])
    sns.lineplot(data=trace_df, x="mV", y="pA", ax=ax, color="black", linewidth=0.9,
                 estimator=None, sort=False)

    ax.set_xlim(*x_limits[i])
    ax.set_ylim(*y_limits[i])
    ax.set_xlabel("")
    ax.set_ylabel("")

    for side in ["top", "right"]:
        ax.spines[side].set_visible(False)
    for side in ["left", "bottom"]:
        ax.spines[side].set_position(("data", 0))
        ax.spines[side].set_linewidth(0.8)
        ax.spines[side].set_zorder(1)
    ax.set_axisbelow(True)

    ax.set_xticks(x_ticks[i])
    ax.set_xticklabels([f"-{abs(v)}" if v < 0 else str(v) for v in x_ticks[i]])
    ax.set_yticks(y_ticks[i])
    ax.set_yticklabels([f"-{abs(v)}" if v < 0 else str(v) for v in y_ticks[i]])
    ax.tick_params(axis="x", bottom=True, direction="out", length=6.4, width=0.8, pad=4, labelsize=21)
    ax.tick_params(axis="y", left=True, direction="out", length=6.4, width=0.8, pad=3.5, labelsize=21)

    # negative x labels hang their minus sign left of the tick; the right-most label of
    # the top-right panel sits slightly left of its tick
    for lab, v in zip(ax.get_xticklabels(), x_ticks[i]):
        dx = 0.06 if v < 0 else 0.0
        if i == 1 and v == 40:
            dx = -0.05
        lab.set_transform(lab.get_transform() + ScaledTranslation(dx, 0, fig.dpi_scale_trans))

    fig.text(fx(title_xy[i][0]), fy(title_xy[i][1]), titles[i], fontsize=25, ha="left", va="baseline")
    fig.text(fx(gamma_xy[i][0]), fy(gamma_xy[i][1]), conductances[i], fontsize=25.5, ha="left", va="baseline")
    fig.text(fx(mv_xy[i][0]), fy(mv_xy[i][1]), "mV", fontsize=19, ha="center", va="baseline")
    fig.text(fx(pa_xy[i][0]), fy(pa_xy[i][1]), "pA", fontsize=21, rotation=90, ha="center", va="center")

fig.savefig("out.png", dpi=DPI)
